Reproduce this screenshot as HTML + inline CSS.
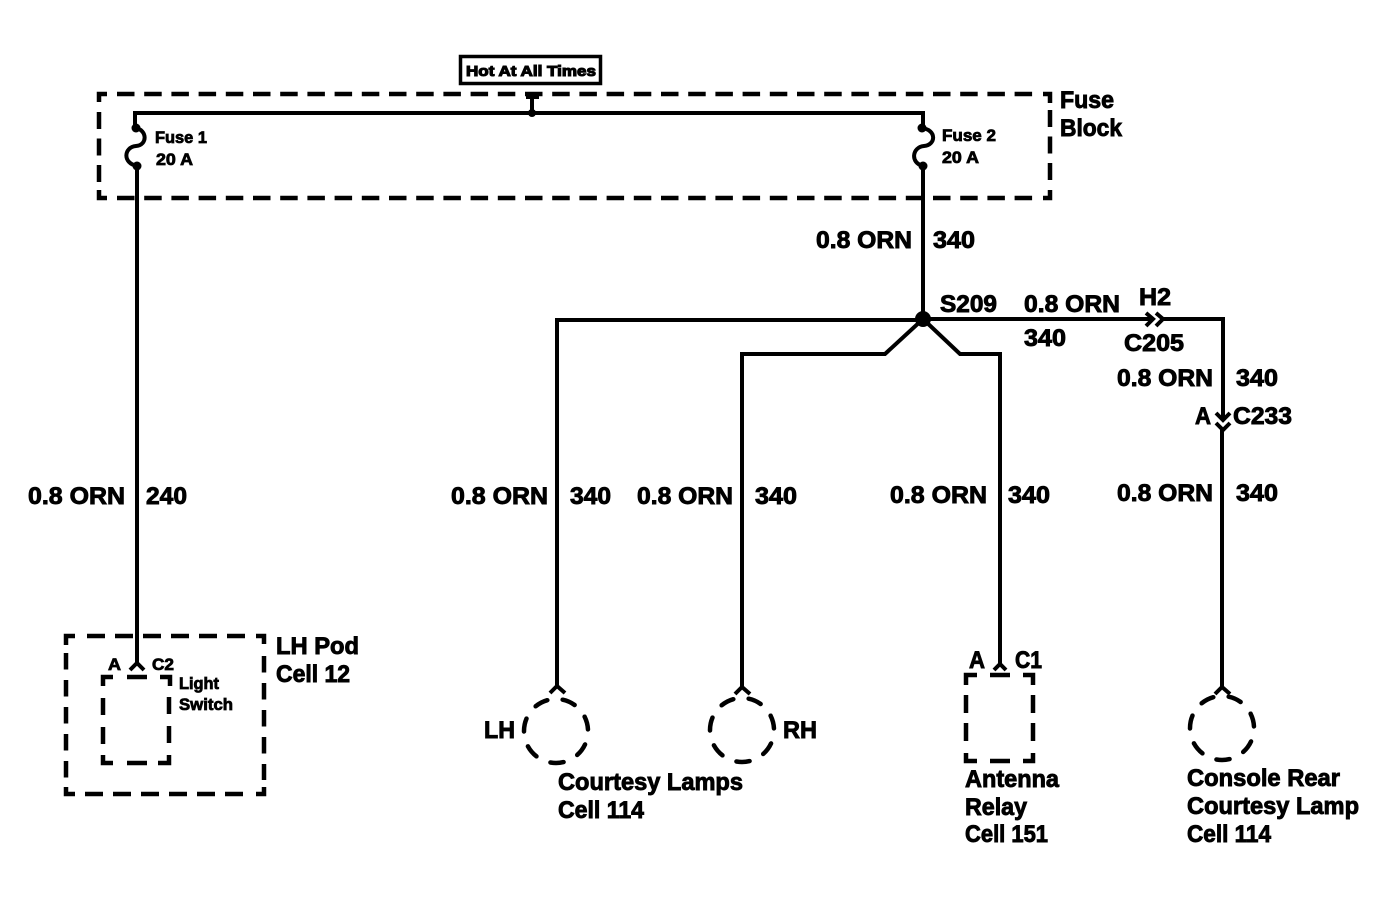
<!DOCTYPE html>
<html>
<head>
<meta charset="utf-8">
<style>
html,body{margin:0;padding:0;background:#fff;width:1392px;height:918px;overflow:hidden}
svg{display:block}
text{font-family:"Liberation Sans",Arial,sans-serif;font-weight:bold;fill:#000;stroke:#000;stroke-width:.9px}
.b{font-size:24px}
.m{font-size:17px;stroke-width:.8px}
.h{font-size:15px;stroke-width:1.100px}
.w{fill:none;stroke:#000;stroke-width:4}
.d{fill:none;stroke:#000;stroke-width:4.500}
.c{fill:none;stroke:#000;stroke-width:4.500;stroke-linecap:round}
</style>
</head>
<body>
<svg width="1392" height="918" viewBox="0 0 1392 918" xmlns="http://www.w3.org/2000/svg">
<!-- Hot box -->
<rect x="460.500" y="56.500" width="140" height="27" fill="none" stroke="#000" stroke-width="3.500"/>
<text class="h" x="466" y="76" textLength="130" lengthAdjust="spacingAndGlyphs">Hot At All Times</text>

<!-- Fuse block -->
<path class="d" d="M99 102V94H107M1043 94H1050V103M99 190V198H107M1043 198H1050V190"/>
<path class="d" d="M117 94H1034M117 198H1034" stroke-dasharray="17.500 9.700"/>
<path class="d" d="M99 112V184M1050 110V182" stroke-dasharray="17 9.500"/>

<!-- main bus -->
<path class="w" d="M135 128V113H923V128"/>
<path class="w" d="M532 113V97M526 97H539"/>
<circle cx="532" cy="113" r="4"/>
<!-- fuse 1 -->
<circle cx="136" cy="128" r="4.500"/><circle cx="137" cy="166" r="4.500"/>
<path class="w" d="M136 128C147 130 148 145 136 146C124 147 122 163 137 166V640"/>
<!-- fuse 2 -->
<circle cx="922" cy="128" r="4.500"/><circle cx="923" cy="166" r="4.500"/>
<path class="w" d="M922 128C937 130 936 145 924 146C912 147 910 163 923 166V319"/>

<!-- left wire to LH pod -->
<path class="w" d="M137 640V663M130 670L137 663L144 670" stroke-width="3.500"/>

<!-- splice & branches -->
<circle cx="923" cy="319" r="8"/>
<path class="w" d="M923 320H557V686M550 693L557 686L565 693"/>
<path class="w" d="M923 319L885 354H742V687M735 694L742 687L750 694"/>
<path class="w" d="M923 319L960 354H1000V664M994 670L1000 664L1006 670"/>
<path class="w" d="M923 319H1150"/>
<path class="w" d="M1146 313L1153 319L1146 326M1156 313L1163 319L1156 326" stroke-width="3"/>
<path class="w" d="M1163 319H1223V420"/>
<path class="w" d="M1216 413L1223 420L1230 413M1216 423L1223 430L1230 423" stroke-width="3"/>
<path class="w" d="M1222 430V687M1215 694L1222 687L1230 694"/>

<!-- LH pod box -->
<path class="d" d="M66 645V636H75M256 636H264V644M66 787V794H75M256 794H264V787"/>
<path class="d" d="M87 636H250M85 794H250" stroke-dasharray="18 10"/>
<path class="d" d="M66 653V780M264 656V780" stroke-dasharray="16.500 10.500"/>
<!-- Light switch -->
<path class="d" d="M103 686V677H113M160 677H170V686M103 755V763H113M158 763H169V755M127 677H147M127 763H147"/>
<path class="d" d="M103 698V745M169 697V745" stroke-dasharray="17 12"/>
<!-- Antenna -->
<path class="d" d="M966 685V675H977M1023 675H1033V685M966 753V761H977M1023 761H1033V753M990 675H1010M990 761H1010"/>
<path class="d" d="M966 695V742M1033 695V742" stroke-dasharray="18 10"/>

<!-- Lamps -->
<circle class="c" cx="556" cy="731" r="32" pathLength="7" stroke-dasharray=".46 .54" transform="rotate(-78 556 731)"/>
<circle class="c" cx="742" cy="730" r="32" pathLength="7" stroke-dasharray=".46 .54" transform="rotate(-78 742 730)"/>
<circle class="c" cx="1222" cy="728" r="32" pathLength="7" stroke-dasharray=".46 .54" transform="rotate(-78 1222 728)"/>

<!-- Labels -->
<text class="b" x="1060" y="108" textLength="54" lengthAdjust="spacingAndGlyphs">Fuse</text>
<text class="b" x="1060" y="136" textLength="62" lengthAdjust="spacingAndGlyphs">Block</text>
<text class="m" x="155" y="143" textLength="52" lengthAdjust="spacingAndGlyphs">Fuse 1</text>
<text class="m" x="156" y="165" textLength="37" lengthAdjust="spacingAndGlyphs">20 A</text>
<text class="m" x="942" y="141" textLength="54" lengthAdjust="spacingAndGlyphs">Fuse 2</text>
<text class="m" x="942" y="163" textLength="37" lengthAdjust="spacingAndGlyphs">20 A</text>

<text class="b" x="816" y="248" textLength="96" lengthAdjust="spacingAndGlyphs">0.8 ORN</text>
<text class="b" x="933" y="248" textLength="42" lengthAdjust="spacingAndGlyphs">340</text>
<text class="b" x="940" y="312" textLength="57" lengthAdjust="spacingAndGlyphs">S209</text>
<text class="b" x="1024" y="312" textLength="96" lengthAdjust="spacingAndGlyphs">0.8 ORN</text>
<text class="b" x="1139" y="305" textLength="32" lengthAdjust="spacingAndGlyphs">H2</text>
<text class="b" x="1024" y="346" textLength="42" lengthAdjust="spacingAndGlyphs">340</text>
<text class="b" x="1124" y="351" textLength="60" lengthAdjust="spacingAndGlyphs">C205</text>
<text class="b" x="1117" y="386" textLength="96" lengthAdjust="spacingAndGlyphs">0.8 ORN</text>
<text class="b" x="1236" y="386" textLength="42" lengthAdjust="spacingAndGlyphs">340</text>
<text class="b" x="1195" y="424" textLength="16" lengthAdjust="spacingAndGlyphs">A</text>
<text class="b" x="1233" y="424" textLength="59" lengthAdjust="spacingAndGlyphs">C233</text>

<text class="b" x="28" y="504" textLength="97" lengthAdjust="spacingAndGlyphs">0.8 ORN</text>
<text class="b" x="146" y="504" textLength="41" lengthAdjust="spacingAndGlyphs">240</text>
<text class="b" x="451" y="504" textLength="97" lengthAdjust="spacingAndGlyphs">0.8 ORN</text>
<text class="b" x="570" y="504" textLength="41" lengthAdjust="spacingAndGlyphs">340</text>
<text class="b" x="637" y="504" textLength="96" lengthAdjust="spacingAndGlyphs">0.8 ORN</text>
<text class="b" x="755" y="504" textLength="42" lengthAdjust="spacingAndGlyphs">340</text>
<text class="b" x="890" y="503" textLength="97" lengthAdjust="spacingAndGlyphs">0.8 ORN</text>
<text class="b" x="1008" y="503" textLength="42" lengthAdjust="spacingAndGlyphs">340</text>
<text class="b" x="1117" y="501" textLength="96" lengthAdjust="spacingAndGlyphs">0.8 ORN</text>
<text class="b" x="1236" y="501" textLength="42" lengthAdjust="spacingAndGlyphs">340</text>

<text class="b" x="276" y="654" textLength="83" lengthAdjust="spacingAndGlyphs">LH Pod</text>
<text class="b" x="276" y="682" textLength="74" lengthAdjust="spacingAndGlyphs">Cell 12</text>
<text class="m" x="108" y="670" textLength="13" lengthAdjust="spacingAndGlyphs">A</text>
<text class="m" x="152" y="670" textLength="22" lengthAdjust="spacingAndGlyphs">C2</text>
<text class="m" x="179" y="689" textLength="40" lengthAdjust="spacingAndGlyphs">Light</text>
<text class="m" x="179" y="710" textLength="54" lengthAdjust="spacingAndGlyphs">Switch</text>

<text class="b" x="484" y="738" textLength="31" lengthAdjust="spacingAndGlyphs">LH</text>
<text class="b" x="783" y="738" textLength="34" lengthAdjust="spacingAndGlyphs">RH</text>
<text class="b" x="558" y="790" textLength="185" lengthAdjust="spacingAndGlyphs">Courtesy Lamps</text>
<text class="b" x="558" y="818" textLength="86" lengthAdjust="spacingAndGlyphs">Cell 114</text>

<text class="b" x="969" y="668" textLength="16" lengthAdjust="spacingAndGlyphs">A</text>
<text class="b" x="1015" y="668" textLength="27" lengthAdjust="spacingAndGlyphs">C1</text>
<text class="b" x="965" y="787" textLength="94" lengthAdjust="spacingAndGlyphs">Antenna</text>
<text class="b" x="965" y="815" textLength="62" lengthAdjust="spacingAndGlyphs">Relay</text>
<text class="b" x="965" y="842" textLength="83" lengthAdjust="spacingAndGlyphs">Cell 151</text>

<text class="b" x="1187" y="786" textLength="153" lengthAdjust="spacingAndGlyphs">Console Rear</text>
<text class="b" x="1187" y="814" textLength="172" lengthAdjust="spacingAndGlyphs">Courtesy Lamp</text>
<text class="b" x="1187" y="842" textLength="84" lengthAdjust="spacingAndGlyphs">Cell 114</text>
</svg>
</body>
</html>
